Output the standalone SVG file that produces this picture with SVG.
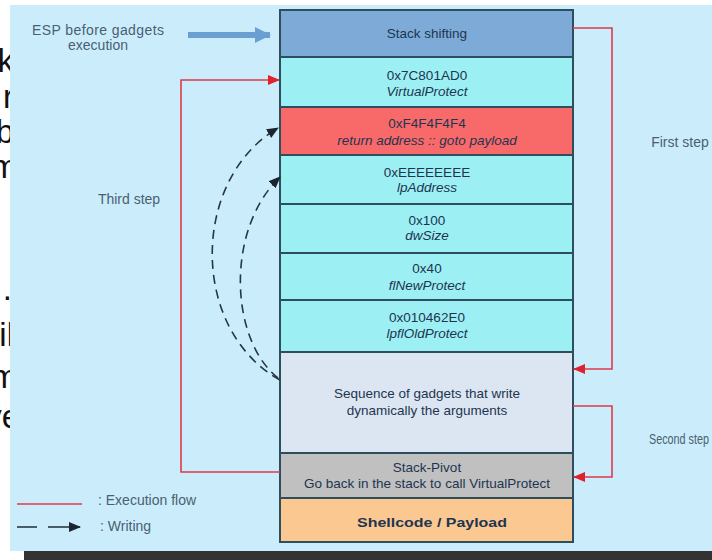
<svg xmlns="http://www.w3.org/2000/svg" width="712" height="560" viewBox="0 0 712 560">
<style>
.bg{font-family:"Liberation Sans",Arial,sans-serif;font-size:33px;fill:#111}
.t{font-family:"Liberation Sans",Arial,sans-serif;font-size:13.5px;fill:#1d3550;text-anchor:middle}
.i{font-style:italic}
.lbl{font-family:"Liberation Sans",Arial,sans-serif;font-size:14px;fill:#4a5f72}
.box{stroke:#2e4e5e;stroke-width:2}
.red{fill:none;stroke:#dd3a4c;stroke-width:1.6}
.dash{fill:none;stroke:#263744;stroke-width:1.6;stroke-dasharray:9 6}
</style>
<defs>
<marker id="ra" markerUnits="userSpaceOnUse" markerWidth="12" markerHeight="10" refX="11" refY="5" orient="auto">
<path d="M0,0 L12,5 L0,10 z" fill="#e0202e"/>
</marker>
<marker id="ka" markerUnits="userSpaceOnUse" markerWidth="12" markerHeight="10" refX="11" refY="5" orient="auto">
<path d="M0,0 L12,5 L0,10 z" fill="#1a2530"/>
</marker>
<marker id="ba" markerUnits="userSpaceOnUse" markerWidth="16" markerHeight="16" refX="15" refY="8" orient="auto">
<path d="M0,0 L16,8 L0,16 z" fill="#6a9fd2"/>
</marker>
</defs>
<rect width="712" height="560" fill="#ffffff"/>
<g id="slide-text">
<text class="bg" x="14" y="72" text-anchor="end">k</text>
<text class="bg" x="14" y="108" text-anchor="end">r</text>
<text class="bg" x="14" y="143" text-anchor="end">b</text>
<text class="bg" x="18" y="178" text-anchor="end">m</text>
<text class="bg" x="12" y="300" text-anchor="end">.</text>
<text class="bg" x="14" y="346" text-anchor="end">il</text>
<text class="bg" x="18" y="388" text-anchor="end">m</text>
<text class="bg" x="20" y="428" text-anchor="end">ve</text>
</g>
<rect x="10" y="5" width="702" height="546" fill="#cbedfb"/>
<rect x="24" y="551" width="688" height="9" fill="#333333"/>
<g id="labels">
<text class="lbl" x="98" y="35" text-anchor="middle" textLength="132">ESP before gadgets</text>
<text class="lbl" x="98" y="50" text-anchor="middle">execution</text>
<text class="lbl" x="129" y="204" text-anchor="middle">Third step</text>
<text class="lbl" x="680" y="147" text-anchor="middle">First step</text>
<text class="lbl" x="679" y="444" text-anchor="middle" font-size="12.5" textLength="60" lengthAdjust="spacingAndGlyphs">Second step</text>
</g>
<g id="legend">
<line x1="17" y1="504" x2="82" y2="504" stroke="#dd3a4c" stroke-width="1.6"/>
<text class="lbl" x="98" y="505">: Execution flow</text>
<line x1="17" y1="527" x2="37" y2="527" stroke="#263744" stroke-width="1.6"/>
<line x1="48" y1="527" x2="80" y2="527" stroke="#263744" stroke-width="1.6" marker-end="url(#ka)"/>
<text class="lbl" x="100" y="531">: Writing</text>
</g>
<g id="n-stackshift"><rect class="box" x="280" y="10" width="293" height="47" fill="#7eaad8"/><text class="t" x="427" y="38">Stack shifting</text></g>
<g id="n-vp"><rect class="box" x="280" y="57" width="293" height="50" fill="#9cf0f4"/><text class="t" x="427" y="80">0x7C801AD0</text><text class="t i" x="427" y="96">VirtualProtect</text></g>
<g id="n-ret"><rect class="box" x="280" y="107" width="293" height="48" fill="#f86a6a"/><text class="t" x="427" y="128">0xF4F4F4F4</text><text class="t i" x="427" y="145">return address :: goto payload</text></g>
<g id="n-lpaddr"><rect class="box" x="280" y="155" width="293" height="49" fill="#9cf0f4"/><text class="t" x="427" y="177">0xEEEEEEEE</text><text class="t i" x="427" y="192">lpAddress</text></g>
<g id="n-dwsize"><rect class="box" x="280" y="204" width="293" height="49" fill="#9cf0f4"/><text class="t" x="427" y="225">0x100</text><text class="t i" x="427" y="240">dwSize</text></g>
<g id="n-flnew"><rect class="box" x="280" y="253" width="293" height="47" fill="#9cf0f4"/><text class="t" x="427" y="273">0x40</text><text class="t i" x="427" y="290">flNewProtect</text></g>
<g id="n-lpflold"><rect class="box" x="280" y="300" width="293" height="52" fill="#9cf0f4"/><text class="t" x="427" y="322">0x010462E0</text><text class="t i" x="427" y="338">lpflOldProtect</text></g>
<g id="n-seq"><rect class="box" x="280" y="352" width="293" height="101" fill="#dce6f2"/><text class="t" x="427" y="398">Sequence of gadgets that write</text><text class="t" x="427" y="415">dynamically the arguments</text></g>
<g id="n-pivot"><rect class="box" x="280" y="453" width="293" height="45" fill="#c0c0c0"/><text class="t" x="427" y="472">Stack-Pivot</text><text class="t" x="427" y="488">Go back in the stack to call VirtualProtect</text></g>
<g id="n-shell"><rect class="box" x="280" y="498" width="293" height="44" fill="#fcc891"/><text class="t" x="432" y="527" font-weight="bold" font-size="15" fill="#2a1a0a" textLength="150" lengthAdjust="spacingAndGlyphs">Shellcode / Payload</text></g>
<g id="connectors">
<line x1="188" y1="35" x2="270" y2="35" stroke="#6a9fd2" stroke-width="6" marker-end="url(#ba)"/>
<polyline class="red" points="573,28 612,28 612,369 574,369" marker-end="url(#ra)"/>
<polyline class="red" points="573,406 612,406 612,477 574,477" marker-end="url(#ra)"/>
<polyline class="red" points="280,472 181,472 181,80 279,80" marker-end="url(#ra)"/>
<path class="dash" d="M280,380 C190,330 190,180 278,128" marker-end="url(#ka)"/>
<path class="dash" d="M278,378 C230,340 225,230 280,177" marker-end="url(#ka)"/>
</g>
</svg>
